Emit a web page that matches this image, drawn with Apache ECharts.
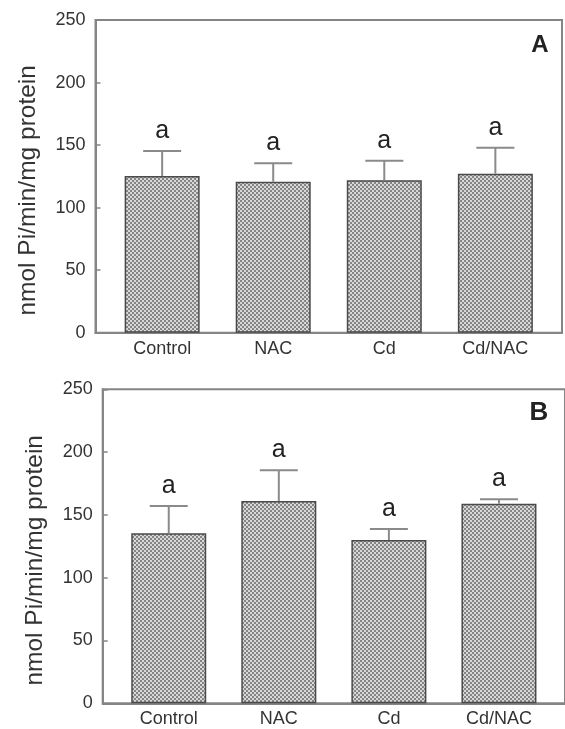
<!DOCTYPE html>
<html>
<head>
<meta charset="utf-8">
<script src="https://cdn.jsdelivr.net/npm/echarts@6/dist/echarts.min.js"></script>
<style>
html,body{margin:0;padding:0;background:#fff;}
#chart{width:565px;height:729px;}
</style>
</head>
<body>
<div id="chart"></div>
<script>
// ---- data ----
const categories = ['Control', 'NAC', 'Cd', 'Cd/NAC'];
const meanA = [125.3, 120.7, 121.8, 127.1];
const sdA   = [20.0, 14.7, 15.7, 20.8];
const sigA  = ['a', 'a', 'a', 'a'];
const meanB = [135.4, 161.0, 130.0, 158.9];
const sdB   = [21.7, 24.5, 8.8, 3.5];
const sigB  = ['a', 'a', 'a', 'a'];
const yMin = 0, yMax = 250, yStep = 50;
const yTitle = 'nmol Pi/min/mg protein';
const panelLetters = ['A', 'B'];

// ---- pattern fill ----
function makePattern() {
  const c = document.createElement('canvas');
  c.width = 4; c.height = 4;
  const g = c.getContext('2d');
  g.fillStyle = '#d8d8d8'; g.fillRect(0, 0, 4, 4);
  g.fillStyle = '#858585';
  g.fillRect(0, 0, 2, 2); g.fillRect(2, 2, 2, 2);
  return c;
}
const pattern = makePattern();

const FONT = '"Liberation Sans", Arial, sans-serif';
const axisGray = '#858585';
const errGray = '#8a8a8a';

const chart = echarts.init(document.getElementById('chart'), null, {renderer: 'canvas'});

const grids = [
  {left: 95.5, top: 20, width: 466.5, height: 312.7},
  {left: 102.7, top: 389.3, width: 468.5, height: 314}
];

function xAxisFor(i) {
  return {
    type: 'value', gridIndex: i, min: -0.6, max: 3.6,
    splitLine: {show: false},
    axisTick: {show: false},
    axisLine: {show: true, onZero: false, lineStyle: {color: axisGray, width: 2}},
    axisLabel: {
      customValues: [0, 1, 2, 3],
      formatter: v => categories[Math.round(v)] || '',
      fontSize: 18, fontFamily: FONT, color: '#333', margin: 7
    }
  };
}
function yAxisFor(i) {
  return {
    type: 'value', gridIndex: i, min: yMin, max: yMax, interval: yStep,
    splitLine: {show: false},
    axisLine: {show: true, onZero: false, lineStyle: {color: axisGray, width: 2}},
    axisTick: {show: true, inside: true, length: 5, lineStyle: {color: axisGray, width: 1.5}},
    axisLabel: {fontSize: 18, fontFamily: FONT, color: '#333', margin: 10},
    name: yTitle, nameLocation: 'middle', nameRotate: 90, nameGap: 55,
    nameTextStyle: {fontSize: 24.5, fontFamily: FONT, color: '#333', padding: [0, 28, 0, 0]}
  };
}

function barSeries(i, means) {
  return {
    type: 'bar', xAxisIndex: i, yAxisIndex: i, barWidth: 75,
    data: means.map((m, k) => [k, m]),
    itemStyle: {color: {image: pattern, repeat: 'repeat'}, borderColor: '#4a4a4a', borderWidth: 1.5},
    silent: true, animation: false, z: 2
  };
}
function errSeries(i, means, sds, sig) {
  return {
    type: 'custom', xAxisIndex: i, yAxisIndex: i,
    data: means.map((m, k) => [k, m, sds[k]]),
    renderItem: function (params, api) {
      const x = api.value(0), m = api.value(1), s = api.value(2);
      const p0 = api.coord([x, m]);
      const p1 = api.coord([x, m + s]);
      return {
        type: 'group',
        children: [
          {type: 'line', shape: {x1: p0[0], y1: p0[1], x2: p1[0], y2: p1[1]}, style: {stroke: errGray, lineWidth: 2}},
          {type: 'line', shape: {x1: p1[0] - 19, y1: p1[1], x2: p1[0] + 19, y2: p1[1]}, style: {stroke: errGray, lineWidth: 2}},
          {type: 'text', style: {text: sig[params.dataIndex], x: p1[0], y: p1[1] - 20, textAlign: 'center', textVerticalAlign: 'middle', font: '25px ' + FONT, fill: '#222'}}
        ]
      };
    },
    silent: true, animation: false, z: 3
  };
}

chart.setOption({
  animation: false,
  backgroundColor: '#fff',
  grid: grids.map(g => Object.assign({show: true, borderColor: axisGray, borderWidth: 2, backgroundColor: 'transparent'}, g)),
  xAxis: [xAxisFor(0), xAxisFor(1)],
  yAxis: [yAxisFor(0), yAxisFor(1)],
  series: [
    barSeries(0, meanA), errSeries(0, meanA, sdA, sigA),
    barSeries(1, meanB), errSeries(1, meanB, sdB, sigB)
  ],
  graphic: [
    {type: 'text', x: 540, y: 45.5, style: {text: panelLetters[0], font: 'bold 24px ' + FONT, fill: '#222', textAlign: 'center', textVerticalAlign: 'middle'}},
    {type: 'text', x: 539, y: 413, style: {text: panelLetters[1], font: 'bold 26px ' + FONT, fill: '#222', textAlign: 'center', textVerticalAlign: 'middle'}}
  ]
});
</script>
</body>
</html>
